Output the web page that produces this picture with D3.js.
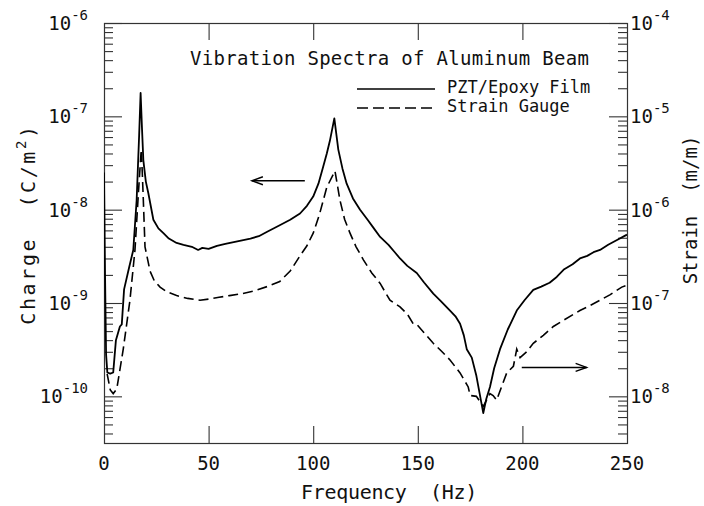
<!DOCTYPE html>
<html>
<head>
<meta charset="utf-8">
<script src="https://cdn.jsdelivr.net/npm/d3@7"></script>
<style>
  body { margin: 0; background: #fff; }
  svg text { font-family: "DejaVu Sans Mono", monospace; fill: #111; white-space: pre; }
</style>
</head>
<body>
<div id="chart-area"></div>
<script>
// PZT/Epoxy film, charge (C/m^2), left axis
const pztFreq = [0, 0.5, 1, 1.6, 3, 4.4, 5.7, 7.6, 8.5, 9.6, 12, 14, 15.6, 16.8, 17.5, 18.2, 18.8, 20, 21.2, 23.6,
    26, 28.4, 31, 34.7, 38, 42, 45, 47, 50, 54, 58, 62, 66, 70, 74, 78, 84, 89, 93.7, 97,
    100, 102.5, 104.8, 106.5, 108, 110.1, 112, 114, 116, 119, 122.4, 126, 129, 132, 136, 139, 141.5, 145, 149.5, 153,
    157.4, 161, 165.4, 168, 170.2, 172, 173.4, 175.8, 178, 181.3, 182.8, 184.5, 186.5, 189.3, 193, 197.3, 201, 205.2, 209, 213,
    216.4, 220, 224, 227.5, 231, 234, 237.1, 241, 245, 250];
const pztCharge = [2.5e-8, 2.0e-9, 2.8e-10, 1.8e-10, 1.75e-10, 1.8e-10, 4.0e-10, 5.6e-10, 5.9e-10, 1.4e-9, 2.4e-9, 3.7e-9, 1.26e-8, 6.3e-8, 1.78e-7, 7.1e-8, 3.4e-8, 2.0e-8, 1.5e-8, 7.8e-9,
    6.3e-9, 5.6e-9, 4.9e-9, 4.4e-9, 4.2e-9, 4.0e-9, 3.7e-9, 3.9e-9, 3.8e-9, 4.1e-9, 4.3e-9, 4.5e-9, 4.7e-9, 4.9e-9, 5.2e-9, 5.8e-9, 6.8e-9, 7.8e-9, 9.1e-9, 1.1e-8,
    1.38e-8, 1.9e-8, 2.9e-8, 4.0e-8, 5.5e-8, 9.5e-8, 4.4e-8, 2.75e-8, 1.9e-8, 1.32e-8, 1.0e-8, 7.8e-9, 6.3e-9, 5.1e-9, 4.2e-9, 3.5e-9, 3.0e-9, 2.5e-9, 2.1e-9, 1.66e-9,
    1.26e-9, 1.05e-9, 8.3e-10, 7.2e-10, 6.0e-10, 4.5e-10, 3.2e-10, 2.6e-10, 1.66e-10, 6.6e-11, 9.5e-11, 1.26e-10, 2.0e-10, 3.2e-10, 5.2e-10, 8.3e-10, 1.07e-9, 1.38e-9, 1.5e-9, 1.65e-9,
    1.9e-9, 2.3e-9, 2.6e-9, 3.0e-9, 3.2e-9, 3.5e-9, 3.7e-9, 4.2e-9, 4.7e-9, 5.4e-9];

// strain gauge, strain (m/m), right axis
const gaugeFreq = [1.5, 3, 4.4, 6.1, 9.2, 12.4, 14.8, 16.5, 17.8, 18.3, 18.8, 19.6, 22, 24, 26.8, 30, 34.7, 40, 45.9, 50,
    55, 60, 66, 72, 78, 84, 89, 93.7, 97, 100, 103, 106.5, 110.4, 112.8, 115, 117.6, 120.5, 124, 128, 132,
    136.7, 141.5, 145, 147.8, 149.5, 153, 157.4, 161, 165.4, 170.2, 174.1, 175, 178, 181.3, 184.5, 186, 187.7, 190, 192.5, 195.7,
    197.3, 198.9, 202, 205.2, 210, 214.8, 220, 227.5, 232, 237.1, 242, 247.5, 250];
const gaugeStrain = [1.74e-8, 1.17e-8, 1.07e-8, 1.2e-8, 3.2e-8, 1.07e-7, 3.7e-7, 1.58e-6, 4.4e-6, 2.5e-6, 1.26e-6, 4.0e-7, 2.2e-7, 1.74e-7, 1.48e-7, 1.32e-7, 1.2e-7, 1.12e-7, 1.07e-7, 1.1e-7,
    1.15e-7, 1.2e-7, 1.26e-7, 1.35e-7, 1.5e-7, 1.7e-7, 2.2e-7, 3.2e-7, 4.1e-7, 5.6e-7, 8.9e-7, 1.74e-6, 2.6e-6, 1.26e-6, 7.9e-7, 5.6e-7, 4.0e-7, 2.9e-7, 2.1e-7, 1.62e-7,
    1.07e-7, 9.1e-8, 7.6e-8, 6.0e-8, 5.9e-8, 4.8e-8, 3.7e-8, 3.1e-8, 2.45e-8, 1.78e-8, 1.26e-8, 1.02e-8, 1.0e-8, 7.8e-9, 1.07e-8, 1.02e-8, 9.1e-9, 1.26e-8, 1.78e-8, 2.1e-8,
    3.2e-8, 2.6e-8, 3.0e-8, 3.7e-8, 4.5e-8, 5.6e-8, 6.6e-8, 8.3e-8, 9.3e-8, 1.07e-7, 1.23e-7, 1.48e-7, 1.55e-7];

const xTicks = [0, 50, 100, 150, 200, 250];
const chargeTicks = [1e-10, 1e-9, 1e-8, 1e-7, 1e-6];
const chargeExps = ["-10", "-9", "-8", "-7", "-6"];
const strainTicks = [1e-8, 1e-7, 1e-6, 1e-5, 1e-4];
const strainExps = ["-8", "-7", "-6", "-5", "-4"];

const titleText = "Vibration Spectra of Aluminum Beam";
const legendLabels = ["PZT/Epoxy Film", "Strain Gauge"];

// arrows: which axis the curve belongs to
const arrowFreqFrom = [96, 199.7];
const arrowFreqTo = [70.7, 230.7];
const arrowLevel = [2.04e-8, 2.04e-8];

const renderChart = () => {
    const w = 704;
    const h = 506;
    const margin = {top: 23, right: 77, bottom: 63, left: 104};

    const xScale = d3.scaleLinear()
        .domain([0, 250])
        .range([margin.left, w - margin.right]);

    const yCharge = d3.scaleLog()
        .domain([Math.pow(10, -10.5), 1e-6])
        .range([h - margin.bottom, margin.top]);

    const yStrain = d3.scaleLog()
        .domain([Math.pow(10, -8.5), 1e-4])
        .range([h - margin.bottom, margin.top]);

    const svg = d3.select("#chart-area")
        .append("svg")
        .attr("width", w)
        .attr("height", h);

    const isMinor = (v) => Math.abs(Math.log10(v) - Math.round(Math.log10(v))) > 1e-6;

    // ticks, all pointing into the plot
    const tickAxis = (axis, tx, ty) => {
        const g = svg.append("g")
            .attr("transform", "translate(" + tx + "," + ty + ")")
            .style("color", "#333")
            .call(axis);
        g.select(".domain").remove();
        g.selectAll("line").attr("stroke-width", 1.1);
    };

    tickAxis(d3.axisLeft(yCharge).tickValues(chargeTicks).tickSize(-18).tickFormat(""), margin.left, 0);
    tickAxis(d3.axisLeft(yCharge).tickValues(yCharge.ticks().filter(isMinor)).tickSize(-9).tickFormat(""), margin.left, 0);
    tickAxis(d3.axisRight(yStrain).tickValues(strainTicks).tickSize(-18).tickFormat(""), w - margin.right, 0);
    tickAxis(d3.axisRight(yStrain).tickValues(yStrain.ticks().filter(isMinor)).tickSize(-9).tickFormat(""), w - margin.right, 0);
    tickAxis(d3.axisBottom(xScale).tickValues(xTicks.slice(1, -1)).tickSize(-17).tickFormat(""), 0, h - margin.bottom);
    tickAxis(d3.axisTop(xScale).tickValues(xTicks.slice(1, -1)).tickSize(-17).tickFormat(""), 0, margin.top);

    svg.append("rect")
        .attr("x", margin.left + 0.5)
        .attr("y", margin.top + 0.5)
        .attr("width", w - margin.left - margin.right)
        .attr("height", h - margin.top - margin.bottom)
        .attr("fill", "none")
        .attr("stroke", "#333")
        .attr("stroke-width", 1.2);

    // tick labels 10^n
    const powLabels = (ticks, exps, scale, x, anchor) => {
        const t = svg.append("g").selectAll("text")
            .data(ticks)
            .enter()
            .append("text")
            .attr("x", x)
            .attr("y", (d) => scale(d) + 7)
            .attr("text-anchor", anchor)
            .style("font-size", "19px");
        t.append("tspan").text("10");
        t.append("tspan")
            .attr("dy", -10)
            .style("font-size", "14px")
            .text((d, i) => exps[i]);
    };
    powLabels(chargeTicks, chargeExps, yCharge, margin.left - 16, "end");
    powLabels(strainTicks, strainExps, yStrain, w - margin.right + 3, "start");

    svg.append("g").selectAll("text")
        .data(xTicks)
        .enter()
        .append("text")
        .attr("x", (d) => xScale(d))
        .attr("y", h - margin.bottom + 27)
        .attr("text-anchor", "middle")
        .style("font-size", "19px")
        .text((d) => d);

    // axis titles
    svg.append("text")
        .attr("x", 389)
        .attr("y", 499)
        .attr("text-anchor", "middle")
        .style("font-size", "20px")
        .style("letter-spacing", "-0.3px")
        .text("Frequency  (Hz)");

    const yl = svg.append("text")
        .attr("transform", "translate(35,224) rotate(-90)")
        .attr("text-anchor", "middle")
        .style("font-size", "20px")
        .style("letter-spacing", "2.6px");
    yl.append("tspan").text("Charge  (C/m");
    yl.append("tspan").attr("dy", -9).style("font-size", "14px").text("2");
    yl.append("tspan").attr("dy", 9).text(")");

    svg.append("text")
        .attr("transform", "translate(697,210) rotate(-90)")
        .attr("text-anchor", "middle")
        .style("font-size", "19px")
        .text("Strain  (m/m)");

    // curves
    svg.append("clipPath")
        .attr("id", "plot-clip")
        .append("rect")
        .attr("x", margin.left)
        .attr("y", margin.top)
        .attr("width", w - margin.left - margin.right)
        .attr("height", h - margin.top - margin.bottom);

    const chargeLine = d3.line()
        .x((d, i) => xScale(pztFreq[i]))
        .y((d) => yCharge(d));

    const strainLine = d3.line()
        .x((d, i) => xScale(gaugeFreq[i]))
        .y((d) => yStrain(d));

    svg.append("path")
        .datum(pztCharge)
        .attr("clip-path", "url(#plot-clip)")
        .attr("d", chargeLine)
        .attr("fill", "none")
        .attr("stroke", "#000")
        .attr("stroke-width", 1.8)
        .attr("stroke-linejoin", "round");

    svg.append("path")
        .datum(gaugeStrain)
        .attr("clip-path", "url(#plot-clip)")
        .attr("d", strainLine)
        .attr("fill", "none")
        .attr("stroke", "#000")
        .attr("stroke-width", 1.6)
        .attr("stroke-dasharray", "10,5");

    // legend
    svg.append("text")
        .attr("x", 190)
        .attr("y", 65)
        .style("font-size", "19px")
        .style("letter-spacing", "0.3px")
        .text(titleText);

    legendLabels.forEach((label, i) => {
        const ly = 89 + i * 19;
        svg.append("line")
            .attr("x1", 357)
            .attr("x2", 435)
            .attr("y1", ly)
            .attr("y2", ly)
            .attr("stroke", "#000")
            .attr("stroke-width", 1.5)
            .attr("stroke-dasharray", i === 0 ? null : "11,5");
        svg.append("text")
            .attr("x", 447)
            .attr("y", ly + 4)
            .style("font-size", "17px")
            .text(label);
    });

    // arrows pointing to each curve's axis
    const arrowY = [yCharge, yStrain];
    arrowFreqFrom.forEach((f, i) => {
        const x1 = xScale(f);
        const x2 = xScale(arrowFreqTo[i]);
        const y = arrowY[i](arrowLevel[i]);
        const dir = x2 > x1 ? 1 : -1;
        svg.append("line")
            .attr("x1", x1).attr("x2", x2)
            .attr("y1", y).attr("y2", y)
            .attr("stroke", "#000")
            .attr("stroke-width", 1.4);
        svg.append("polyline")
            .attr("points", [[x2 - dir * 11, y - 4], [x2, y], [x2 - dir * 11, y + 4]].join(" "))
            .attr("fill", "none")
            .attr("stroke", "#000")
            .attr("stroke-width", 1.4);
    });
};

renderChart();
</script>
</body>
</html>
